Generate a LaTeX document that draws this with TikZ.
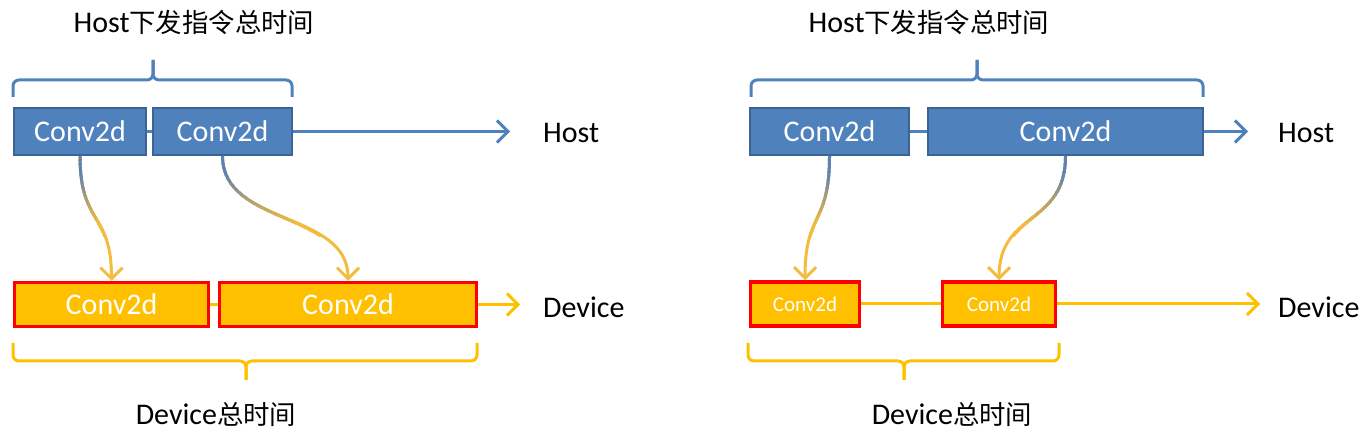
\documentclass[tikz,border=0pt]{standalone}
\usepackage{fontspec}
\setmainfont{Carlito}
\newfontfamily\cjk[Scale=0.88]{Noto Sans CJK SC}
\usetikzlibrary{arrows.meta}

\definecolor{hostblue}{HTML}{4F81BD}
\definecolor{hostedge}{HTML}{3A6496}
\definecolor{devyellow}{HTML}{FFC000}
\definecolor{devred}{HTML}{FF0000}
\definecolor{linkblue}{HTML}{5E82B4}
\definecolor{linkyellow}{HTML}{F2BC3F}

\begin{document}
\begin{tikzpicture}[x=1pt, y=-1pt]
\tikzset{ >={Straight Barb[length=11pt, width=22pt]},
  hostbox/.style={draw=hostedge, fill=hostblue, line width=2pt, text=white, inner sep=0pt, minimum height=47pt, font=\fontsize{30}{36}\selectfont},
  devbox/.style={draw=devred, fill=devyellow, line width=3.5pt, text=white, inner sep=0pt, minimum height=44pt, font=\fontsize{30}{36}\selectfont},
  smallbox/.style={devbox, font=\fontsize{21}{25}\selectfont},
  hline/.style={hostblue, line width=3pt},
  dline/.style={devyellow, line width=3pt},
  link/.style={line width=3pt},
  hbrace/.style={hostblue, line width=3pt, rounded corners=6pt},
  dbrace/.style={devyellow, line width=3pt, rounded corners=6pt},
  label/.style={inner sep=0pt, font=\fontsize{30}{36}\selectfont},
}

\useasboundingbox (0,0) rectangle (1365,435);

% left: short host, long device
\node [hostbox, minimum width=132pt] (lh1) at (80,131.5) {Conv2d};
\node [hostbox, minimum width=139pt] (lh2) at (222.5,131.5) {Conv2d};
\node [devbox, minimum width=194pt] (ld1) at (111.5,304.5) {Conv2d};
\node [devbox, minimum width=257pt] (ld2) at (348,304.5) {Conv2d};

\coordinate (lhend) at (510,131.5);
\coordinate (ldend) at (520,304.5);

\draw [hline] (lh1) -- (lh2);
\draw [hline, ->] (lh2) -- (lhend);
\draw [dline] (ld1) -- (ld2);
\draw [dline, ->] (ld2) -- (ldend);

\node [label, anchor=west] (lhost) at (543,133) {Host};
\node [label, anchor=west] (ldev) at (543,307) {Device};

% right: long host, short device
\node [hostbox, minimum width=159pt] (rh1) at (829.5,131.5) {Conv2d};
\node [hostbox, minimum width=275pt] (rh2) at (1065.5,131.5) {Conv2d};
\node [smallbox, minimum width=109pt] (rd1) at (805,304) {Conv2d};
\node [smallbox, minimum width=113pt] (rd2) at (999,304) {Conv2d};

\coordinate (rhend) at (1248,131.5);
\coordinate (rdend) at (1260,304);

\draw [hline] (rh1) -- (rh2);
\draw [hline, ->] (rh2) -- (rhend);
\draw [dline] (rd1) -- (rd2);
\draw [dline, ->] (rd2) -- (rdend);

\node [label, anchor=west] (rhost) at (1278,133) {Host};
\node [label, anchor=west] (rdev) at (1278,307) {Device};

% launches, blue into yellow
\draw [link, linkyellow, ->] (lh1.south) .. controls +(0,70) and +(0,-70) .. (ld1.north);
\draw [link, linkyellow, ->] (lh2.south) .. controls +(0,70) and +(0,-70) .. (ld2.north);
\draw [link, linkyellow, ->] (rh1.south) .. controls +(0,70) and +(0,-70) .. (rd1.north);
\draw [link, linkyellow, ->] (rh2.south) .. controls +(0,70) and +(0,-70) .. (rd2.north);

\foreach \i in {0,...,19} {
  \pgfmathsetmacro{\ya}{156+4*\i}
  \pgfmathsetmacro{\yb}{\ya+4.6}
  \pgfmathtruncatemacro{\pct}{max(0,min(100,(\ya+2-175)*2))}
  \begin{scope}
    \clip (0,\ya) rectangle (1365,\yb);
    \draw [link, linkyellow!\pct!linkblue] (lh1.south) .. controls +(0,70) and +(0,-70) .. (ld1.north);
    \draw [link, linkyellow!\pct!linkblue] (lh2.south) .. controls +(0,70) and +(0,-70) .. (ld2.north);
    \draw [link, linkyellow!\pct!linkblue] (rh1.south) .. controls +(0,70) and +(0,-70) .. (rd1.north);
    \draw [link, linkyellow!\pct!linkblue] (rh2.south) .. controls +(0,70) and +(0,-70) .. (rd2.north);
  \end{scope}
}

% braces
\draw [hbrace] (13,97) -- (13,80) -- (153,80) -- (153,60);
\draw [hbrace] (292,97) -- (292,80) -- (153,80) -- (153,60);
\draw [hbrace] (751,97) -- (751,80) -- (977,80) -- (977,60);
\draw [hbrace] (1203,97) -- (1203,80) -- (977,80) -- (977,60);

\draw [dbrace] (13,343) -- (13,361) -- (246,361) -- (246,380);
\draw [dbrace] (477,343) -- (477,361) -- (246,361) -- (246,380);
\draw [dbrace] (748,343) -- (748,361) -- (904,361) -- (904,380);
\draw [dbrace] (1059,343) -- (1059,361) -- (904,361) -- (904,380);

\node [label] (ltop) at (194,22) {Host{\cjk 下发指令总时间}};
\node [label] (rtop) at (929,22) {Host{\cjk 下发指令总时间}};
\node [label] (lbot) at (216,414) {Device{\cjk 总时间}};
\node [label] (rbot) at (952,414) {Device{\cjk 总时间}};

\end{tikzpicture}
\end{document}
